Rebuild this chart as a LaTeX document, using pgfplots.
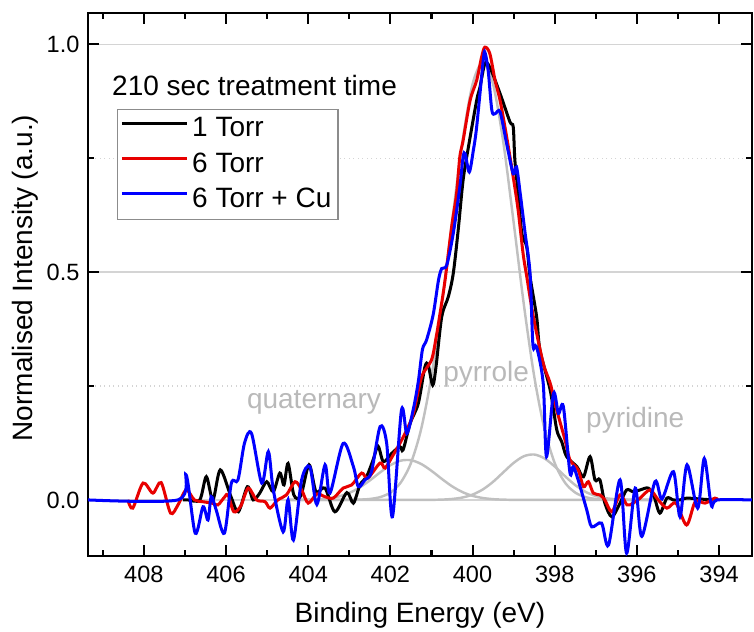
\documentclass[border=0pt]{standalone}
\usepackage{fontspec}
\setmainfont{Liberation Sans}
\usepackage{pgfplots}
\pgfplotsset{compat=1.18}
\usetikzlibrary{calc}
\definecolor{fitgray}{RGB}{192,192,192}
\definecolor{labgray}{RGB}{185,185,185}
\definecolor{gridgray}{RGB}{212,212,212}
\definecolor{myred}{RGB}{232,0,0}
\definecolor{myblue}{RGB}{0,0,255}
\begin{document}
\begin{tikzpicture}
\begin{axis}[
  name=ax,
  width=352.3pt, height=288.1pt, scale only axis,
  x dir=reverse,
  xmin=393.2, xmax=409.36,
  ymin=-0.123, ymax=1.069,
  xtick={394,396,...,408}, minor xtick={395,397,...,409},
  ytick={0,0.5,1}, minor ytick={0.25,0.75},
  tick align=inside,
  major tick length=5.8pt, minor tick length=3.2pt,
  axis line style={line width=1.1pt},
  every tick/.style={line width=1.1pt, black},
  ymajorgrids, yminorgrids,
  major grid style={gridgray, line width=0.8pt},
  minor grid style={gridgray, dotted, line width=0.8pt},
  /pgf/number format/assume math mode=true,
  xticklabel style={/pgf/number format/.cd, fixed, 1000 sep={}},
  yticklabel style={/pgf/number format/.cd, fixed, fixed zerofill, precision=1},
  tick label style={font=\fontsize{12.5}{14}\selectfont},
  xticklabel shift=2pt, yticklabel shift=1pt,
  label style={font=\fontsize{14.85}{17}\selectfont},
  xlabel={Binding Energy (eV)},
  ylabel={Normalised Intensity (a.u.)},
  x label style={at={(axis description cs:0.5,-0.1087)}, anchor=center},
  y label style={at={(axis description cs:-0.0949,0.512)}, anchor=center},
  legend style={font=\fontsize{14.85}{17}\selectfont, draw=black!45, line width=0.6pt,
    fill=white, at={(rel axis cs:0.0437,0.823)}, anchor=north west,
    inner xsep=1.5pt, inner ysep=2.5pt, row sep=2.6pt,
    nodes={inner xsep=2pt, inner ysep=0pt, text height=12pt, text depth=4pt}},
  legend cell align=left,
  legend image code/.code={\draw[#1, line width=1.6pt] (0pt,0.33em) -- (34.5pt,0.33em);},
]
% fitted components (gray): pyrrole, quaternary, pyridine
\addplot[fitgray, line width=1.3pt, smooth, forget plot] coordinates {
(404.5,0)(403.75,0)(403.25,0.0001)(403.0,0.0002)(402.75,0.0007)(402.5,0.0021)(402.25,0.0062)(402.0,0.0161)(401.75,0.0379)(401.5,0.0809)(401.25,0.1560)(401.0,0.2718)(400.75,0.4280)(400.5,0.6095)(400.25,0.7844)(400.0,0.9127)(399.75,0.96)(399.5,0.9127)(399.25,0.7844)(399.0,0.6095)(398.75,0.4280)(398.5,0.2718)(398.25,0.1560)(398.0,0.0809)(397.75,0.0379)(397.5,0.0161)(397.25,0.0062)(397.0,0.0021)(396.75,0.0007)(396.5,0.0002)(396.25,0.0001)(395.75,0)(395.5,0)};
\addplot[fitgray, line width=1.3pt, smooth, forget plot] coordinates {
(404.5,0)(404.25,0.0002)(404.0,0.0005)(403.75,0.0014)(403.5,0.0036)(403.25,0.0078)(403.0,0.0154)(402.75,0.0272)(402.5,0.0428)(402.25,0.0604)(402.0,0.0763)(401.75,0.0862)(401.5,0.0872)(401.25,0.0789)(401.0,0.0639)(400.75,0.0463)(400.5,0.0300)(400.25,0.0174)(400.0,0.0090)(399.75,0.0042)(399.5,0.0017)(399.25,0.0006)(399.0,0.0002)(398.5,0)(395.5,0)};
\addplot[fitgray, line width=1.3pt, smooth, forget plot] coordinates {
(404.5,0)(401.5,0)(401.0,0.0002)(400.75,0.0007)(400.5,0.0021)(400.25,0.0052)(400.0,0.0117)(399.75,0.0230)(399.5,0.0398)(399.25,0.0607)(399.0,0.0813)(398.75,0.0960)(398.5,0.0997)(398.25,0.0912)(398.0,0.0734)(397.75,0.0521)(397.5,0.0325)(397.25,0.0178)(397.0,0.0086)(396.75,0.0037)(396.5,0.0014)(396.25,0.0005)(396.0,0.0001)(395.5,0)};
% 1 Torr
\addplot[black, line width=1.6pt, smooth] coordinates {
(407.05,0)(406.93,0)(406.64,0)(406.48,0.051)(406.32,0)(406.14,0.066)(405.88,0.007)(405.70,-0.026)(405.48,0.029)(405.34,0)(405.18,0.015)(405.01,0.040)(404.85,0.018)(404.69,0.059)(404.59,0.033)(404.49,0.080)(404.35,0.011)(404.18,0.009)(403.98,0.077)(403.81,0.018)(403.59,0.026)(403.35,-0.026)(403.06,0.016)(402.90,-0.007)(402.74,0.033)(402.58,0.051)(402.42,0.088)(402.30,0.118)(402.17,0.084)(401.97,0.102)(401.77,0.117)(401.69,0.110)(401.52,0.168)(401.32,0.212)(401.16,0.292)(401.08,0.296)(400.97,0.252)(400.89,0.292)(400.75,0.402)(400.59,0.446)(400.47,0.497)(400.35,0.592)(400.23,0.702)(400.10,0.775)(399.90,0.877)(399.82,0.906)(399.70,0.958)(399.58,0.950)(399.33,0.892)(399.09,0.830)(399.01,0.819)(398.97,0.746)(398.89,0.673)(398.80,0.585)(398.68,0.555)(398.60,0.490)(398.44,0.402)(398.36,0.329)(398.11,0.241)(397.95,0.154)(397.83,0.128)(397.71,0.095)(397.46,0.073)(397.30,0.051)(397.14,0.095)(397.02,0.044)(396.90,0.044)(396.78,-0.007)(396.61,-0.037)(396.41,-0.007)(396.25,0.022)(396.09,0.018)(395.92,0.022)(395.72,0.026)(395.58,0.007)(395.44,-0.029)(395.27,0.004)(395.12,0)(394.95,0)(394.79,0.004)(394.46,0.002)(394.17,0)};
\addlegendentry{1 Torr}
% 6 Torr
\addplot[myred, line width=1.6pt, smooth] coordinates {
(408.39,0)(408.27,-0.018)(408.02,0.037)(407.78,0.015)(407.58,0.038)(407.35,-0.029)(407.17,-0.011)(406.97,0.022)(406.77,0)(406.56,-0.004)(406.34,-0.007)(406.20,-0.011)(406.03,0.007)(405.95,0.011)(405.81,-0.026)(405.64,-0.013)(405.46,0.026)(405.26,0)(405.05,-0.004)(404.93,-0.018)(404.74,0)(404.53,0.011)(404.32,0.040)(404.16,0.022)(404.00,-0.007)(403.79,0.013)(403.59,0.007)(403.39,0.004)(403.15,0.026)(402.94,0.033)(402.70,0.059)(402.55,0.048)(402.25,0.081)(402.13,0.070)(401.93,0.099)(401.77,0.124)(401.60,0.154)(401.44,0.190)(401.24,0.270)(401.00,0.307)(400.89,0.355)(400.79,0.410)(400.67,0.482)(400.51,0.599)(400.39,0.672)(400.31,0.753)(400.23,0.789)(400.06,0.877)(399.90,0.921)(399.78,0.972)(399.70,0.994)(399.58,0.980)(399.45,0.920)(399.33,0.877)(399.17,0.797)(399.01,0.709)(398.89,0.636)(398.77,0.541)(398.68,0.490)(398.52,0.402)(398.28,0.300)(398.11,0.256)(397.95,0.197)(397.75,0.132)(397.63,0.088)(397.43,0.066)(397.30,0.029)(397.18,0.040)(397.06,0.015)(396.90,0.011)(396.78,0)(396.61,-0.026)(396.41,0.011)(396.24,-0.011)(396.09,-0.007)(395.92,0.004)(395.68,0.022)(395.48,0)(395.27,-0.018)(395.05,-0.007)(394.79,-0.055)(394.58,-0.004)(394.34,-0.007)(394.10,0.004)(394.03,0)};
\addlegendentry{6 Torr}
% 6 Torr + Cu
\addplot[myblue, line width=1.6pt, smooth] coordinates {
(409.36,0)(407.17,0)(406.97,0.055)(406.75,-0.073)(406.56,-0.015)(406.44,-0.044)(406.36,0.007)(406.24,-0.022)(406.04,-0.073)(405.87,0.037)(405.71,0.044)(405.55,0.125)(405.38,0.146)(405.13,0.037)(404.97,0.106)(404.85,0.022)(404.61,-0.070)(404.49,0)(404.36,-0.088)(404.16,0.044)(403.96,0.073)(403.79,-0.010)(403.59,0.077)(403.47,0.015)(403.15,0.124)(402.90,0.073)(402.78,0.029)(402.62,0.044)(402.46,0.062)(402.25,0.161)(402.09,0.124)(401.95,-0.037)(401.73,0.197)(401.60,0.146)(401.44,0.200)(401.32,0.260)(401.22,0.330)(401.12,0.351)(400.96,0.406)(400.83,0.482)(400.75,0.508)(400.63,0.515)(400.47,0.585)(400.31,0.687)(400.23,0.753)(400.18,0.760)(400.08,0.720)(399.98,0.768)(399.90,0.819)(399.74,0.965)(399.70,0.983)(399.62,0.943)(399.53,0.855)(399.45,0.848)(399.33,0.852)(399.17,0.782)(399.01,0.716)(398.93,0.731)(398.84,0.673)(398.72,0.585)(398.60,0.497)(398.53,0.340)(398.44,0.336)(398.28,0.256)(398.20,0.095)(398.03,0.234)(397.91,0.190)(397.79,0.205)(397.63,0.060)(397.55,0.073)(397.43,0.044)(397.22,-0.022)(397.10,-0.059)(396.86,-0.051)(396.69,-0.099)(396.41,0.044)(396.25,-0.117)(396.04,0.026)(395.88,-0.080)(395.56,0.040)(395.39,0.002)(395.11,0.062)(394.95,-0.037)(394.78,0.077)(394.52,-0.018)(394.36,0.091)(394.19,-0.011)(394.05,0)(393.2,0)};
\addlegendentry{6 Torr + Cu}
\node[anchor=west, inner sep=0pt, font=\fontsize{14.85}{17}\selectfont] at (axis cs:408.78,0.91) {210 sec treatment time};
\node[inner sep=0pt, text=labgray, font=\fontsize{14.85}{17}\selectfont] at (axis cs:403.86,0.215) {quaternary};
\node[inner sep=0pt, text=labgray, font=\fontsize{14.85}{17}\selectfont] at (axis cs:399.67,0.276) {pyrrole};
\node[inner sep=0pt, text=labgray, font=\fontsize{14.85}{17}\selectfont] at (axis cs:396.04,0.175) {pyridine};
\end{axis}
\pgfresetboundingbox
\path[use as bounding box] ($(ax.south west)+(-46.7pt,-40.3pt)$) rectangle ($(ax.north east)+(1.1pt,6.9pt)$);
\end{tikzpicture}
\end{document}
